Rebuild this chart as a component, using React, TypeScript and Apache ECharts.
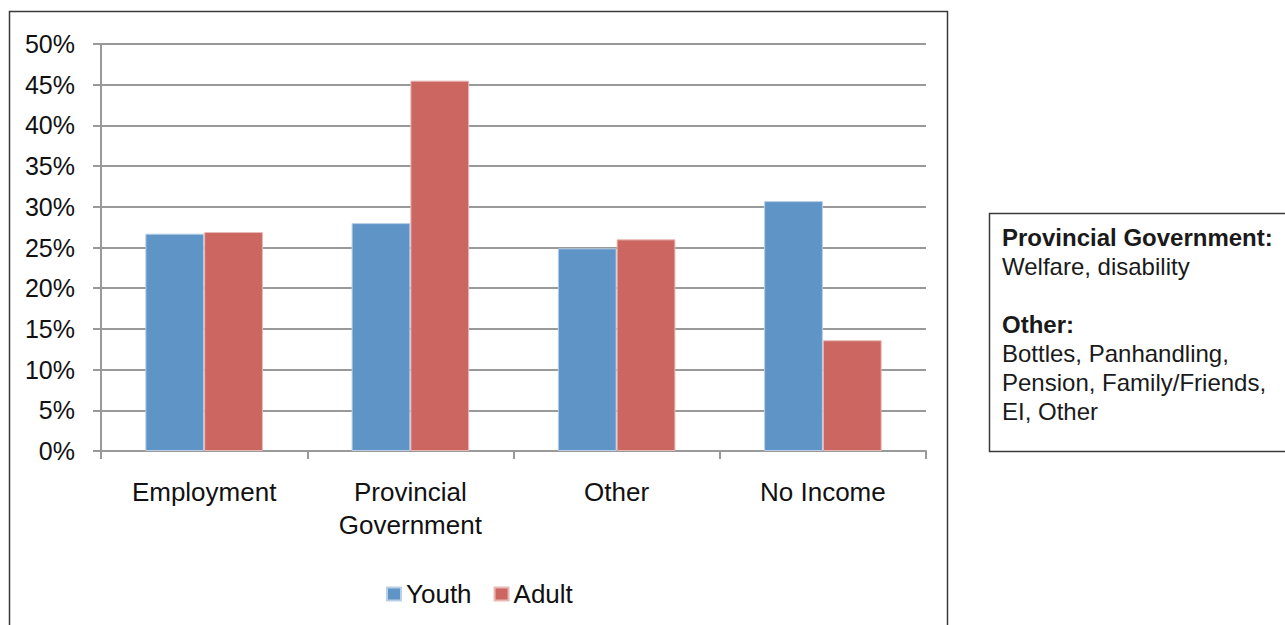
import React, { useEffect, useRef } from "react";
import * as echarts from "echarts";

const categories = ["Employment", "Provincial\nGovernment", "Other", "No Income"];
const youthValues = [26.7, 28.0, 24.9, 30.7];
const adultValues = [26.9, 45.5, 26.0, 13.6];
const seriesNames = ["Youth", "Adult"];
const noteLines = [
  "{b|Provincial Government:}",
  "Welfare, disability",
  "",
  "{b|Other:}",
  "Bottles, Panhandling,",
  "Pension, Family/Friends,",
  "EI, Other",
];

const FONT = "'Liberation Sans', Arial, sans-serif";

export default function App() {
  const ref = useRef<HTMLDivElement>(null);
  useEffect(() => {
    if (!ref.current) return;
    const chart = echarts.init(ref.current, undefined, { renderer: "svg" });
    chart.setOption({
      animation: false,
      textStyle: { fontFamily: FONT },
      graphic: [
        {
          type: "rect",
          shape: { x: 9.5, y: 11.5, width: 938, height: 640 },
          style: { fill: "none", stroke: "#3a3a3a", lineWidth: 1.5 },
          z: 0,
        },
        {
          type: "rect",
          shape: { x: 989.5, y: 213.5, width: 320, height: 238 },
          style: { fill: "#fff", stroke: "#3a3a3a", lineWidth: 1.5 },
        },
        {
          type: "text",
          x: 1002,
          y: 223,
          style: {
            text: noteLines.join("\n"),
            fontFamily: FONT,
            fontSize: 24,
            lineHeight: 29,
            fill: "#1a1a1a",
            verticalAlign: "top",
            rich: {
              b: { fontWeight: "bold", fontSize: 24, lineHeight: 29, fontFamily: FONT, fill: "#1a1a1a" },
            },
          },
        },
      ],
      legend: {
        left: 381,
        top: 576,
        itemWidth: 14,
        itemHeight: 13,
        itemGap: 22,
        icon: "rect",
        textStyle: { fontSize: 26, color: "#111", fontFamily: FONT },
        data: seriesNames,
      },
      grid: { left: 101, right: 359, top: 44, bottom: 174, containLabel: false },
      xAxis: {
        type: "category",
        data: categories,
        axisLine: { lineStyle: { color: "#999", width: 2 } },
        axisTick: { show: true, length: 8, alignWithLabel: false, lineStyle: { color: "#999", width: 2 } },
        axisLabel: { fontSize: 26, color: "#111", margin: 24, lineHeight: 33, fontFamily: FONT },
      },
      yAxis: {
        type: "value",
        min: 0,
        max: 50,
        interval: 5,
        axisLine: { show: true, lineStyle: { color: "#999", width: 2 } },
        axisTick: { show: true, length: 8, lineStyle: { color: "#999", width: 2 } },
        splitLine: { lineStyle: { color: "#999", width: 2 } },
        axisLabel: { fontSize: 25, color: "#111", margin: 26, formatter: "{value}%", fontFamily: FONT },
      },
      series: [
        {
          name: seriesNames[0],
          type: "bar",
          data: youthValues,
          barGap: "0%",
          barCategoryGap: "43%",
          itemStyle: { color: "#5F94C7", borderColor: "#b9cfe6", borderWidth: 1 },
        },
        {
          name: seriesNames[1],
          type: "bar",
          data: adultValues,
          barGap: "0%",
          barCategoryGap: "43%",
          itemStyle: { color: "#CC6660", borderColor: "#e8b8b5", borderWidth: 1 },
        },
      ],
    });
    return () => chart.dispose();
  }, []);
  return (
    <div
      ref={ref}
      style={{ position: "fixed", left: 0, top: 0, width: 1285, height: 625, background: "#fff" }}
    />
  );
}
